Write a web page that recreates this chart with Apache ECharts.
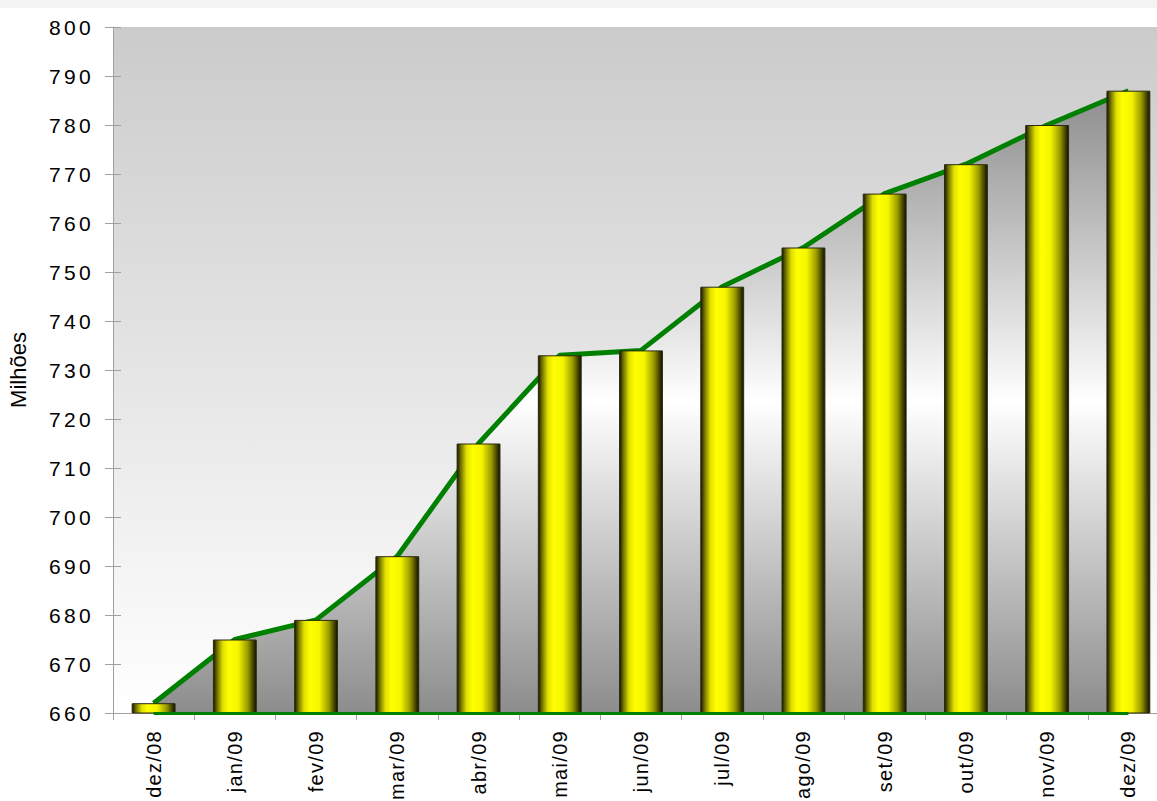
<!DOCTYPE html>
<html>
<head>
<meta charset="utf-8">
<script src="https://cdn.jsdelivr.net/npm/echarts@6/dist/echarts.min.js"></script>
<style>
  html, body { margin: 0; padding: 0; background: #ffffff; }
  #chart { width: 1157px; height: 801px; }
  /* wider tracking for the axis numbers and month names */
  #chart text[style*="21px"] { letter-spacing: 3.3px; }
  #chart text[style*="20px"] { letter-spacing: 1.3px; }
</style>
</head>
<body>
<div id="chart"></div>
<script>
// Monthly totals, in millions
const months = ['dez/08', 'jan/09', 'fev/09', 'mar/09', 'abr/09', 'mai/09', 'jun/09',
                'jul/09', 'ago/09', 'set/09', 'out/09', 'nov/09', 'dez/09'];
const totals = [662, 675, 679, 692, 715, 733, 734, 747, 755, 766, 772, 780, 787];
const axisMin = 660;
const axisMax = 800;
const axisStep = 10;
const axisTitle = 'Milhões';

const font = 'Liberation Sans, Arial, sans-serif';
const chart = echarts.init(document.getElementById('chart'), null, { renderer: 'svg' });

// cylinder shading across each bar
const barFill = new echarts.graphic.LinearGradient(0, 0, 1, 0, [
  { offset: 0.00, color: '#141400' },
  { offset: 0.08, color: '#6a6a00' },
  { offset: 0.22, color: '#e0e000' },
  { offset: 0.36, color: '#ffff00' },
  { offset: 0.58, color: '#f4f400' },
  { offset: 0.80, color: '#9a9a00' },
  { offset: 0.93, color: '#404000' },
  { offset: 1.00, color: '#111100' }
]);

const areaFill = new echarts.graphic.LinearGradient(0, 0, 0, 1, [
  { offset: 0.0, color: '#8c8c8c' },
  { offset: 0.5, color: '#ffffff' },
  { offset: 1.0, color: '#8c8c8c' }
]);

const plotFill = new echarts.graphic.LinearGradient(0, 0, 0, 1, [
  { offset: 0, color: '#cbcbcb' },
  { offset: 1, color: '#ffffff' }
]);

chart.setOption({
  animation: false,
  backgroundColor: '#ffffff',
  graphic: [
    { type: 'rect', left: 0, top: 0, shape: { width: 1157, height: 8 }, style: { fill: '#f3f3f3' }, z: -1 }
  ],
  grid: {
    left: 113, width: 1056, top: 27, bottom: 88,
    outerBoundsMode: 'none', containLabel: false,
    show: true, backgroundColor: plotFill, borderWidth: 0
  },
  xAxis: [
    {
      type: 'category', data: months, boundaryGap: true,
      axisLine: { show: true, lineStyle: { color: '#a0a0a0', width: 1 } },
      axisTick: { show: true, length: 7, lineStyle: { color: '#a0a0a0' } },
      axisLabel: { rotate: 90, margin: 17, interval: 0, color: '#000000', fontSize: 20, fontFamily: font },
      splitLine: { show: false }
    },
    {
      type: 'category', data: months, boundaryGap: true, position: 'bottom',
      axisLine: { show: false },
      axisTick: { show: true, inside: true, length: 7, lineStyle: { color: '#a0a0a0' } },
      axisLabel: { show: false },
      splitLine: { show: false }
    }
  ],
  yAxis: [
    {
      type: 'value', min: axisMin, max: axisMax, interval: axisStep,
      name: axisTitle, nameLocation: 'middle', nameRotate: 90, nameGap: 84,
      nameTextStyle: { color: '#000000', fontSize: 22, fontFamily: font },
      axisLine: { show: true, lineStyle: { color: '#a0a0a0', width: 1 } },
      axisTick: { show: true, length: 8, lineStyle: { color: '#a0a0a0' } },
      axisLabel: { margin: 19, color: '#000000', fontSize: 21, fontFamily: font },
      splitLine: { show: false }
    },
    {
      type: 'value', min: axisMin, max: axisMax, interval: axisStep, position: 'left',
      axisLine: { show: false },
      axisTick: { show: true, inside: true, length: 8, lineStyle: { color: '#a0a0a0' } },
      axisLabel: { show: false },
      splitLine: { show: false }
    }
  ],
  series: [
    {
      type: 'line', data: totals, z: 2,
      showSymbol: false, symbol: 'none',
      lineStyle: { color: '#008000', width: 5 },
      areaStyle: { color: areaFill, opacity: 1, origin: 'start' },
      markLine: {
        silent: true, symbol: 'none', label: { show: false },
        lineStyle: { color: '#008000', width: 3, type: 'solid' },
        data: [[{ coord: [0, axisMin] }, { coord: [months.length - 1, axisMin] }]]
      }
    },
    {
      type: 'bar', data: totals, z: 3, barWidth: '54%',
      itemStyle: { color: barFill, borderColor: '#2b2b10', borderWidth: 1 }
    }
  ]
});
</script>
</body>
</html>
